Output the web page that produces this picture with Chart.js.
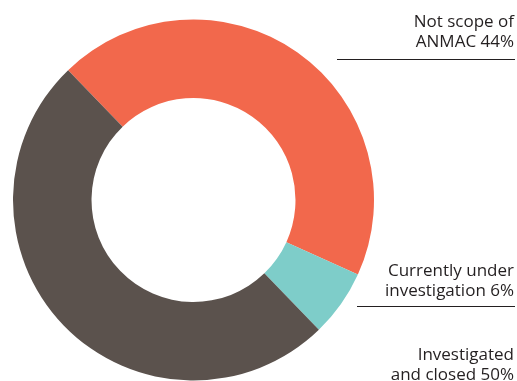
<!DOCTYPE html>
<html lang="en">
<head>
    <meta charset="UTF-8">
    <meta name="viewport" content="width=device-width, initial-scale=1.0">
    <title>Complaints by outcome</title>
    <script src="https://cdn.jsdelivr.net/npm/chart.js"></script>
    <style>
        body { margin: 0; background: #fff; }
    </style>
</head>
<body>
    <canvas id="chart" width="517" height="381"></canvas>

    <script>
        const categories = ['Not scope of ANMAC', 'Currently under investigation', 'Investigated and closed'];
        const shares = [44, 6, 50];
        const colours = ['#F2684C', '#7ECDC9', '#5B524D'];

        // label text split over two lines, plus where each caption sits
        const labelLines = [
            ['Not scope of', 'ANMAC 44%'],
            ['Currently under', 'investigation 6%'],
            ['Investigated', 'and closed 50%']
        ];
        const labelSpots = [
            { base: 27, rule: 59.5, ruleFrom: 337 },
            { base: 276, rule: 306.5, ruleFrom: 357 },
            { base: 360, rule: null, ruleFrom: 0 }
        ];

        const sideLabels = {
            id: 'sideLabels',
            afterDraw(chart) {
                const c = chart.ctx;
                const right = 515;
                c.save();
                c.font = '17px "Open Sans"';
                c.fillStyle = '#231F20';
                c.textAlign = 'right';
                c.textBaseline = 'alphabetic';
                labelLines.forEach((lines, i) => {
                    const spot = labelSpots[i];
                    lines.forEach((t, j) => c.fillText(t, right - 1, spot.base + j * 19.5));
                    if (spot.rule !== null) {
                        c.strokeStyle = '#231F20';
                        c.lineWidth = 1;
                        c.beginPath();
                        c.moveTo(spot.ruleFrom, spot.rule);
                        c.lineTo(right, spot.rule);
                        c.stroke();
                    }
                });
                c.restore();
            }
        };

        const ctx = document.getElementById('chart').getContext('2d');
        new Chart(ctx, {
            type: 'doughnut',
            data: {
                labels: categories,
                datasets: [{
                    data: shares,
                    backgroundColor: colours,
                    borderWidth: 0
                }]
            },
            options: {
                responsive: false,
                animation: false,
                cutout: '56.5%',
                rotation: -44,
                layout: {
                    padding: { top: 19.5, bottom: 0.5, left: 13, right: 143 }
                },
                plugins: {
                    legend: { display: false },
                    tooltip: { enabled: false }
                }
            },
            plugins: [sideLabels]
        });
    </script>
</body>
</html>
